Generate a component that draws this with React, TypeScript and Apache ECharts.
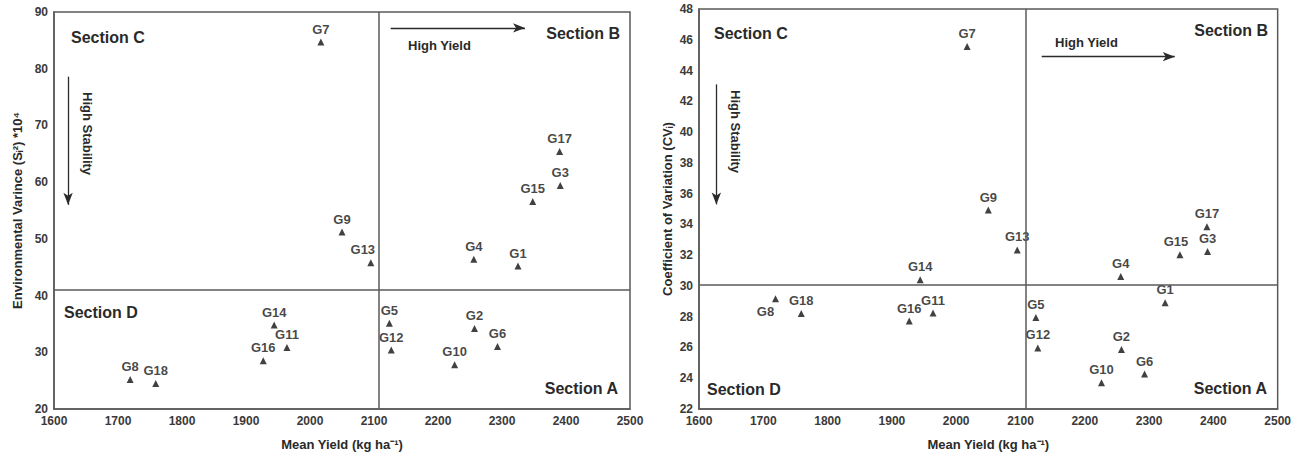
import React, { useEffect, useRef } from "react";
import * as echarts from "echarts";

const genotypes = ["G1","G2","G3","G4","G5","G6","G7","G8","G9","G10","G11","G12","G13","G14","G15","G16","G17","G18"];
const meanYield = [2325, 2257, 2391, 2256, 2124, 2293, 2017, 1719, 2050, 2226, 1964, 2127, 2095, 1944, 2348, 1927, 2390, 1759];
const envVariance = [45.2, 34.2, 59.4, 46.4, 35.1, 31.0, 84.7, 25.2, 51.2, 27.8, 30.85, 30.4, 45.8, 34.8, 56.6, 28.5, 65.4, 24.5];
const cvValues = [28.9, 25.86, 32.23, 30.61, 27.94, 24.27, 45.56, 29.17, 34.93, 23.71, 28.24, 25.97, 32.34, 30.4, 32.03, 27.72, 33.85, 28.2];
const yieldMeanLine = 2108;
const varianceMeanLine = 41.1;
const cvMeanLine = 30.1;
const xTicks = { min: 1600, max: 2500, interval: 100 };
const leftYTicks = { min: 20, max: 90, interval: 10 };
const rightYTicks = { min: 22, max: 48, interval: 2 };

const FONT = "'Liberation Sans', Arial, sans-serif";
const LINE = "#5a5a5a";
const TXT = "#151515";

export default function App() {
  const ref = useRef<HTMLDivElement>(null);
  useEffect(() => {
    document.body.style.margin = "0";
    const chart = echarts.init(ref.current!, undefined, { renderer: "svg" });

    const mkData = (ys: number[], overrides: Record<string, any>) =>
      genotypes.map((g, i) => {
        const item: any = { name: g, value: [meanYield[i], ys[i]] };
        if (overrides[g]) item.label = overrides[g];
        return item;
      });

    const tickLabel = { color: "#3a3a3a", fontWeight: "bold", fontSize: 12, fontFamily: FONT, formatter: (v: number) => String(v) };
    const nameStyle = { color: "#2a2a2a", fontWeight: "bold", fontSize: 13, fontFamily: FONT };

    const xAxis = (gridIndex: number) => ({
      gridIndex,
      type: "value",
      min: xTicks.min,
      max: xTicks.max,
      interval: xTicks.interval,
      splitLine: { show: false },
      axisTick: { show: false },
      axisLine: { show: true, lineStyle: { color: LINE, width: 1.5 } },
      axisLabel: { ...tickLabel, margin: 6 },
      name: "Mean Yield (kg ha⁻¹)",
      nameLocation: "middle",
      nameGap: 29,
      nameTextStyle: nameStyle,
    });
    const yAxis = (gridIndex: number, t: any, name: string, gap: number) => ({
      gridIndex,
      type: "value",
      min: t.min,
      max: t.max,
      interval: t.interval,
      splitLine: { show: false },
      axisTick: { show: false },
      axisLine: { show: true, lineStyle: { color: LINE, width: 1.5 } },
      axisLabel: { ...tickLabel, margin: 6 },
      name,
      nameLocation: "middle",
      nameGap: gap,
      nameRotate: 90,
      nameTextStyle: nameStyle,
    });

    const labelBase = {
      show: true,
      position: "top",
      distance: 3,
      formatter: "{b}",
      color: TXT,
      fontWeight: "bold",
      fontSize: 13,
      fontFamily: FONT,
    };

    const markLines = (hy: number, arrows: any[]) => ({
      silent: true,
      symbol: ["none", "none"],
      label: { show: false },
      lineStyle: { color: LINE, width: 1.5, type: "solid" },
      data: [
        { xAxis: yieldMeanLine },
        { yAxis: hy },
        ...arrows.map((ar) => [
          { coord: ar[0], symbol: "none", lineStyle: { color: "#2a2a2a", width: 1.3 } },
          { coord: ar[1], symbol: "arrow", symbolSize: [7, 12] },
        ]),
      ],
    });

    const secStyle = { fill: "#2a2a2a", font: `bold 16px ${FONT}` };
    const smStyle = { fill: "#2a2a2a", font: `bold 13px ${FONT}` };
    const gtext = (text: string, x: number, y: number, style: any, rotation = 0, align = "left") => ({
      type: "text",
      x,
      y,
      rotation,
      style: { text, ...style, textAlign: align, textVerticalAlign: "middle" },
    });

    chart.setOption({
      animation: false,
      backgroundColor: "#ffffff",
      grid: [
        { left: 54, top: 12, width: 576, height: 398, show: true, borderColor: LINE, borderWidth: 1.5 },
        { left: 699, top: 9, width: 579, height: 402, show: true, borderColor: LINE, borderWidth: 1.5 },
      ],
      xAxis: [xAxis(0), xAxis(1)],
      yAxis: [
        yAxis(0, leftYTicks, "Environmental Varince (Sᵢ²) *10⁴", 30),
        yAxis(1, rightYTicks, "Coefficient of Variation (CVᵢ)", 25),
      ],
      series: [
        {
          type: "scatter",
          xAxisIndex: 0,
          yAxisIndex: 0,
          symbol: "triangle",
          symbolSize: 7,
          itemStyle: { color: "#111" },
          label: labelBase,
          data: mkData(envVariance, { G13: { offset: [-8, 0] } }),
          markLine: markLines(varianceMeanLine, [
            [[1622, 78.6], [1622, 56.0]],
            [[2126, 87.2], [2336, 87.2]],
          ]),
        },
        {
          type: "scatter",
          xAxisIndex: 1,
          yAxisIndex: 1,
          symbol: "triangle",
          symbolSize: 7,
          itemStyle: { color: "#111" },
          label: labelBase,
          data: mkData(cvValues, {
            G8: { position: "bottom", distance: 3, offset: [-10, 0] },
            G15: { offset: [-4, 0] },
          }),
          markLine: markLines(cvMeanLine, [
            [[1627, 43.1], [1627, 35.3]],
            [[2133, 44.9], [2340, 44.9]],
          ]),
        },
      ],
      graphic: [
        gtext("Section C", 71, 37, secStyle),
        gtext("Section B", 620, 33, secStyle, 0, "right"),
        gtext("Section D", 64, 312, secStyle),
        gtext("Section A", 618, 388, secStyle, 0, "right"),
        gtext("High Yield", 408, 45, smStyle),
        gtext("High Stability", 87, 92, smStyle, -Math.PI / 2),
        gtext("Section C", 714, 33, secStyle),
        gtext("Section B", 1268, 30, secStyle, 0, "right"),
        gtext("Section D", 707, 389, secStyle),
        gtext("Section A", 1267, 388, secStyle, 0, "right"),
        gtext("High Yield", 1055, 42, smStyle),
        gtext("High Stability", 735, 90, smStyle, -Math.PI / 2),
      ],
    });
    return () => chart.dispose();
  }, []);
  return <div ref={ref} style={{ width: 1294, height: 456 }} />;
}
